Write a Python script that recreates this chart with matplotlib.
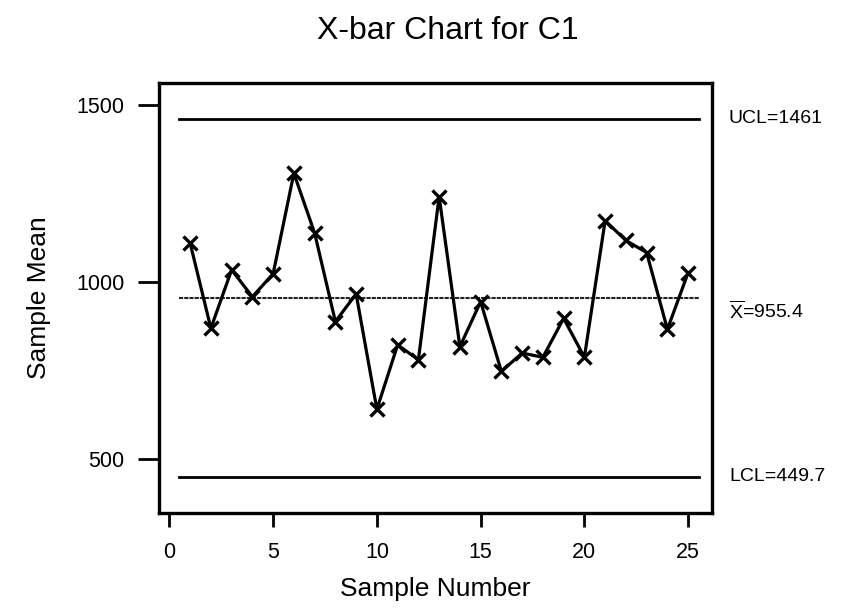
import numpy as np
import matplotlib
matplotlib.use('Agg')
import matplotlib.pyplot as plt

plt.rcParams['font.family'] = ['Liberation Sans', 'DejaVu Sans']
plt.rcParams['mathtext.fontset'] = 'custom'
plt.rcParams['mathtext.sf'] = 'Liberation Sans'

# sample means
sample_no = np.arange(1, 26)
sample_mean = [1110, 869, 1034, 958, 1023, 1307, 1138, 888, 966, 640,
               822, 780, 1241, 817, 944, 747, 799, 787, 897, 787,
               1173, 1117, 1083, 866, 1026]
ucl = 1461
center = 955.4
lcl = 449.7

W, H = 841, 608
fig = plt.figure(figsize=(W / 100, H / 100), dpi=100)
# axes box in pixels: left 159, right 712, top 83, bottom 513
ax = fig.add_axes([159 / W, 1 - 513 / H, (712 - 159) / W, (513 - 83) / H])

# control limits
ax.plot([0.45, 25.5], [ucl, ucl], color='black', lw=2)
ax.plot([0.45, 25.5], [center, center], color='#222222', lw=1.5,
        ls=(0, (2, 0.5)))
ax.plot([0.45, 25.5], [lcl, lcl], color='black', lw=2)

ax.plot(sample_no, sample_mean, color='black', lw=2.3, marker='x',
        markersize=10, markeredgewidth=2.4)

ax.set_xlim(-0.5, 26.15)
ax.set_ylim(347, 1562)
ax.set_xticks([0, 5, 10, 15, 20, 25])
ax.set_yticks([500, 1000, 1500])
ax.tick_params(axis='y', direction='out', length=15, width=2,
               labelsize=15.5, pad=10)
ax.tick_params(axis='x', direction='out', length=10, width=2,
               labelsize=15.5, pad=11)
for s in ax.spines.values():
    s.set_linewidth(2.4)

ax.set_xlabel('Sample Number', fontsize=19, labelpad=10)
ax.set_ylabel('Sample Mean', fontsize=19, labelpad=18)
fig.text(0.533, 1 - 39 / H, 'X-bar Chart for C1', fontsize=23,
         ha='center', va='baseline')

# limit labels to the right of the plot
yt = ax.get_yaxis_transform()
lx = 1 + 17 / 553
ax.text(lx, ucl, 'UCL=1461', transform=yt, va='center', ha='left', fontsize=14)
ax.text(lx, center - 6, r'$\overline{\mathsf{X}}$=955.4', transform=yt,
        va='top', ha='left', fontsize=14)
ax.text(lx, lcl, 'LCL=449.7', transform=yt, va='center', ha='left', fontsize=14)

fig.savefig('out.png', dpi=100)
